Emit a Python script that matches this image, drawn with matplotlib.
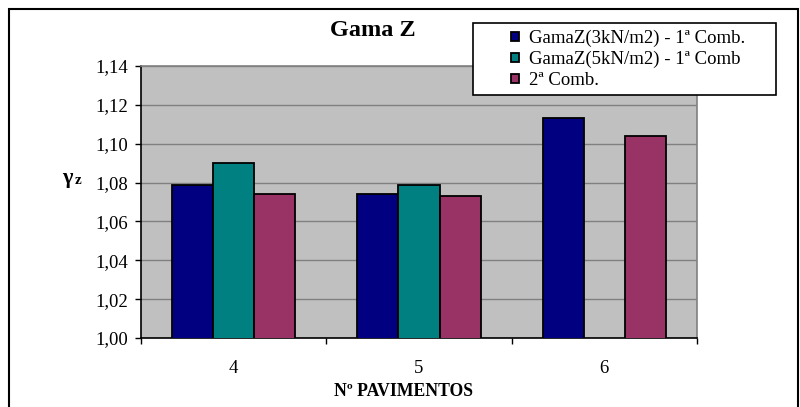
import numpy as np
from matplotlib import pyplot as plt
from matplotlib.patches import Rectangle

pavimentos = ['4', '5', '6']
gz_3kn = [1.079, 1.074, 1.113]
gz_5kn = [1.090, 1.079, np.nan]
comb2 = [1.074, 1.073, 1.104]
nomes = ['GamaZ(3kN/m2) - 1ª Comb.', 'GamaZ(5kN/m2) - 1ª Comb', '2ª Comb.']
cores = ['#000080', '#008080', '#993366']
yticks = [1.00, 1.02, 1.04, 1.06, 1.08, 1.10, 1.12, 1.14]

plt.rcParams['font.family'] = ['Liberation Serif', 'DejaVu Serif']

fig = plt.figure(figsize=(8, 4.07), dpi=100)
ax = fig.add_axes([141/800, 1-338/407, 556/800, 272/407])
ax.set_facecolor('#C0C0C0')

x = np.arange(len(pavimentos))
w = 1/4.5
for i, (serie, cor, nome) in enumerate(zip([gz_3kn, gz_5kn, comb2], cores, nomes)):
    ax.bar(x + (i-1)*w, serie, w, color=cor, edgecolor='black', linewidth=1.3,
           label=nome, zorder=3)

ax.set_ylim(1.0, 1.14)
ax.set_xlim(-0.5, 2.5)
ax.set_yticks(yticks)
ax.set_yticklabels([('%.2f' % v).replace('.', ',') for v in yticks], fontsize=13.5)
ax.yaxis.grid(True, color='#808080', linewidth=1.0, zorder=1)
ax.tick_params(axis='y', direction='out', length=4.5, width=1, pad=5)

ax.set_xticks(x)
ax.set_xticklabels(pavimentos, fontsize=13.5)
ax.tick_params(axis='x', which='major', length=0, pad=16)
ax.set_xticks([-0.5, 0.5, 1.5, 2.5], minor=True)
ax.tick_params(axis='x', which='minor', direction='out', length=4, width=1)

for s in ['top', 'right']:
    ax.spines[s].set_color('#808080')
    ax.spines[s].set_linewidth(1.2)
for s in ['left', 'bottom']:
    ax.spines[s].set_color('black')
    ax.spines[s].set_linewidth(1.2)

fig.text(373/800, 1-30/407, 'Gama Z', ha='center', va='center',
         fontsize=17.5, fontweight='bold')
fig.text(404/800, 1-391/407, 'Nº PAVIMENTOS', ha='center', va='center',
         fontsize=12.7, fontweight='bold')
fig.text(62/800, 1-178/407, 'γ', ha='left', va='center', fontsize=16, fontweight='bold')
fig.text(75/800, 1-181/407, 'z', ha='left', va='center', fontsize=11, fontweight='bold')

# caixa da legenda
fig.add_artist(Rectangle((473/800, 1-95/407), 303/800, 72/407, transform=fig.transFigure,
                         facecolor='white', edgecolor='black', linewidth=1.2, zorder=5))
handles, labels = ax.get_legend_handles_labels()
leg = fig.legend(handles, labels, loc='upper left', bbox_to_anchor=(511/800, 1-30/407),
                 frameon=False, fontsize=13.5, borderpad=0, borderaxespad=0,
                 handlelength=0.42, handleheight=0.42, handletextpad=0.55, labelspacing=0.2)
leg.set_zorder(6)

# moldura do grafico
fig.add_artist(Rectangle((9/800, -0.05), 789/800, 1.05-9/407, transform=fig.transFigure,
                         facecolor='none', edgecolor='black', linewidth=1.5, zorder=10))

fig.savefig('out.png', dpi=100)
